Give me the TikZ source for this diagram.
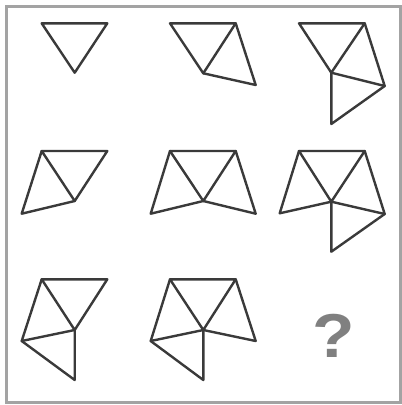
\documentclass[tikz,border=0pt]{standalone}
\usepackage{fontspec}
\setmainfont{Liberation Sans}
\definecolor{edge}{HTML}{3A3A3A}
\definecolor{frame}{HTML}{A3A3A3}
\definecolor{qgrey}{HTML}{808080}
\begin{document}
\begin{tikzpicture}[x=1pt,y=-1pt,
  fig/.style={draw=edge,line width=2.4pt,line join=round,line cap=round},
  qmark/.style={text=qgrey,font=\fontsize{62}{62}\selectfont\bfseries,inner sep=0pt,xscale=1.12}]
\useasboundingbox (0,0) rectangle (402,405);
\draw[frame,line width=3pt] (6.5,6.5) rectangle (400,402.5);
% panel 1
\coordinate (a1) at (41.7,23.3); \coordinate (b1) at (107.3,23.3); \coordinate (v1) at (74.7,72.7);
\draw[fig] (a1) -- (b1) -- (v1) -- cycle;
% panel 2
\coordinate (a2) at (170,23.3); \coordinate (b2) at (235.7,23.3); \coordinate (v2) at (203.3,73.3); \coordinate (r2) at (255.7,85);
\draw[fig] (a2) -- (b2) -- (v2) -- cycle;
\draw[fig] (b2) -- (r2) -- (v2);
% panel 3
\coordinate (a3) at (299,23.3); \coordinate (b3) at (364.7,23.3); \coordinate (v3) at (331.3,72.7); \coordinate (r3) at (384.7,86); \coordinate (e3) at (331.3,124);
\draw[fig] (a3) -- (b3) -- (v3) -- cycle;
\draw[fig] (b3) -- (r3) -- (v3);
\draw[fig] (r3) -- (e3) -- (v3);
% panel 4
\coordinate (a4) at (41.7,151); \coordinate (b4) at (107.3,151); \coordinate (v4) at (74.7,201); \coordinate (l4) at (21.7,213.7);
\draw[fig] (a4) -- (b4) -- (v4) -- cycle;
\draw[fig] (a4) -- (l4) -- (v4);
% panel 5
\coordinate (a5) at (170,151); \coordinate (b5) at (235.7,151); \coordinate (v5) at (203.3,201); \coordinate (l5) at (150.7,213.7); \coordinate (r5) at (255.7,213.7);
\draw[fig] (a5) -- (b5) -- (v5) -- cycle;
\draw[fig] (a5) -- (l5) -- (v5);
\draw[fig] (b5) -- (r5) -- (v5);
% panel 6
\coordinate (a6) at (299,151); \coordinate (b6) at (364.7,151); \coordinate (v6) at (331.3,201.7); \coordinate (l6) at (279.7,213.3); \coordinate (r6) at (384.7,214); \coordinate (e6) at (331.3,251.7);
\draw[fig] (a6) -- (b6) -- (v6) -- cycle;
\draw[fig] (a6) -- (l6) -- (v6);
\draw[fig] (b6) -- (r6) -- (v6);
\draw[fig] (r6) -- (e6) -- (v6);
% panel 7
\coordinate (a7) at (41.7,279.3); \coordinate (b7) at (107.3,279.3); \coordinate (v7) at (74.7,330); \coordinate (l7) at (21.7,341); \coordinate (e7) at (74.7,380);
\draw[fig] (a7) -- (b7) -- (v7) -- cycle;
\draw[fig] (a7) -- (l7) -- (v7);
\draw[fig] (l7) -- (e7) -- (v7);
% panel 8
\coordinate (a8) at (170,279.3); \coordinate (b8) at (235.7,279.3); \coordinate (v8) at (203.3,330); \coordinate (l8) at (150.7,341); \coordinate (r8) at (255.7,341); \coordinate (e8) at (203.3,380);
\draw[fig] (a8) -- (b8) -- (v8) -- cycle;
\draw[fig] (a8) -- (l8) -- (v8);
\draw[fig] (b8) -- (r8) -- (v8);
\draw[fig] (l8) -- (e8) -- (v8);
% panel 9
\node[qmark,anchor=base] (q) at (333.5,357.7) {?};
\end{tikzpicture}
\end{document}
